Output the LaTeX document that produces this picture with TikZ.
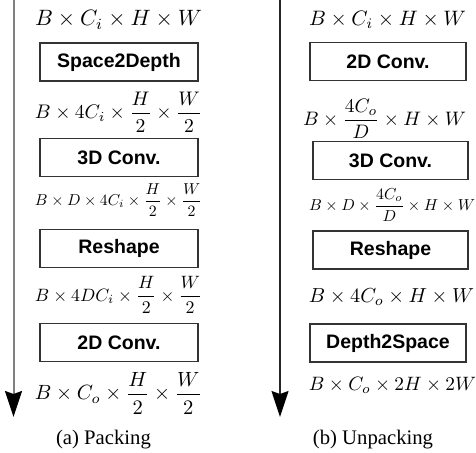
\documentclass[tikz,border=0pt]{standalone}
\usepackage{amsmath}
\usepackage{fontspec}
\usepackage{graphicx}
\usetikzlibrary{arrows.meta}
\newfontfamily\boxfont{Liberation Sans}
\newfontfamily\capfont{Liberation Serif}
\begin{document}
\begin{tikzpicture}[x=1pt,y=-1pt,
  opbox/.style={draw=black!80,line width=1.3pt,minimum height=38pt,inner sep=0pt,
    font=\boxfont\bfseries\fontsize{19.5}{22}\selectfont},
  dimtext/.style={inner sep=0pt},
  captext/.style={inner sep=0pt,font=\capfont\fontsize{20.7}{24}\selectfont}]
\useasboundingbox (0,0) rectangle (476,452);
% left arrow
\coordinate (la1) at (13.5,0);
\coordinate (la2) at (13.5,417);
\draw[draw=black!50,line width=2pt,
  -{Stealth[length=26pt,width=17pt,inset=3pt,fill=black,color=black]}] (la1) -- (la2);
% right arrow
\coordinate (ra1) at (280,0);
\coordinate (ra2) at (280,417);
\draw[draw=black!85,line width=1.3pt,
  -{Stealth[length=26pt,width=17pt,inset=3pt,fill=black,color=black]}] (ra1) -- (ra2);

% left column
\node[dimtext] (l1) at (118.5,20) {\resizebox{167pt}{!}{$B\times C_i\times H\times W$}};
\node[opbox,minimum width=158pt] (lb1) at (119,62) {Space2Depth};
\node[dimtext] (l2) at (118.5,112) {\resizebox{167pt}{!}{$B\times 4C_i\times \dfrac{H}{2}\times\dfrac{W}{2}$}};
\node[opbox,minimum width=158pt] (lb2) at (119,157.5) {3D Conv.};
\node[dimtext] (l3) at (118.5,200) {\resizebox{167pt}{!}{$B\times D\times 4C_i\times \dfrac{H}{2}\times\dfrac{W}{2}$}};
\node[opbox,minimum width=158pt] (lb3) at (119,248.5) {Reshape};
\node[dimtext] (l4) at (118.5,295) {\resizebox{167pt}{!}{$B\times 4DC_i\times \dfrac{H}{2}\times\dfrac{W}{2}$}};
\node[opbox,minimum width=158pt] (lb4) at (119,342.5) {2D Conv.};
\node[dimtext] (l5) at (118.5,393) {\resizebox{167pt}{!}{$B\times C_o\times \dfrac{H}{2}\times\dfrac{W}{2}$}};
\node[captext] (lc) at (103.5,440) {(a) Packing};

% right column
\node[dimtext] (r1) at (387.5,20) {\resizebox{157pt}{!}{$B\times C_i\times H\times W$}};
\node[opbox,minimum width=156pt] (rb1) at (388,61.5) {2D Conv.};
\node[dimtext] (r2) at (384.5,119) {\resizebox{163pt}{!}{$B\times \dfrac{4C_o}{D}\times H\times W$}};
\node[opbox,minimum width=155pt] (rb2) at (390.5,160.5) {3D Conv.};
\node[dimtext] (r3) at (392,205) {\resizebox{166pt}{!}{$B\times D\times \dfrac{4C_o}{D}\times H\times W$}};
\node[opbox,minimum width=155pt] (rb3) at (390.5,250) {Reshape};
\node[dimtext] (r4) at (391.5,297) {\resizebox{165pt}{!}{$B\times 4C_o\times H\times W$}};
\node[opbox,minimum width=156pt] (rb4) at (388,343) {Depth2Space};
\node[dimtext] (r5) at (392.5,385) {\resizebox{167pt}{!}{$B\times C_o\times 2H\times 2W$}};
\node[captext] (rc) at (373,440) {(b) Unpacking};
\end{tikzpicture}
\end{document}
